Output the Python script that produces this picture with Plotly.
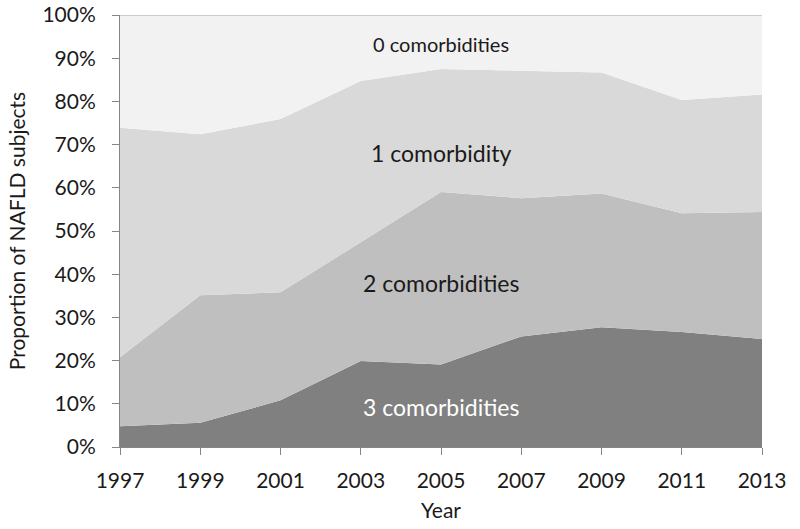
import plotly.graph_objects as go

years = [1997, 1999, 2001, 2003, 2005, 2007, 2009, 2011, 2013]
three = [4.8, 5.6, 10.8, 19.9, 19.1, 25.6, 27.7, 26.6, 25.0]
two = [16.0, 29.5, 25.0, 27.5, 39.9, 32.0, 31.0, 27.5, 29.4]
one = [53.1, 37.3, 40.1, 37.3, 28.5, 29.5, 28.0, 26.2, 27.2]
zero = [26.1, 27.6, 24.1, 15.3, 12.5, 12.9, 13.3, 19.7, 18.4]

series = [
    ("3 comorbidities", three, "#808080"),
    ("2 comorbidities", two, "#bfbfbf"),
    ("1 comorbidity", one, "#d9d9d9"),
    ("0 comorbidities", zero, "#f2f2f2"),
]

fig = go.Figure()
for i, (name, vals, col) in enumerate(series):
    top = i == len(series) - 1
    fig.add_trace(go.Scatter(
        x=years, y=vals, name=name, mode="lines", stackgroup="one",
        groupnorm="percent" if i == 0 else None,
        fillcolor=col,
        line=dict(color="#a6a6a6" if top else col, width=1.2 if top else 0),
        hoverinfo="x+y+name",
    ))

font = "Lato, 'Open Sans', sans-serif"
labels = [
    ("0 comorbidities", 93.3, 20, "#1a1a1a"),
    ("1 comorbidity", 68.0, 23, "#1a1a1a"),
    ("2 comorbidities", 37.9, 23, "#1a1a1a"),
    ("3 comorbidities", 9.2, 23, "#ffffff"),
]
for txt, yv, fs, c in labels:
    fig.add_annotation(x=2005, y=yv, xref="x", yref="y", text=txt, showarrow=False,
                       font=dict(size=fs, color=c, family=font))

fig.update_layout(
    width=800, height=529,
    margin=dict(l=120, r=38, t=15, b=82),
    paper_bgcolor="white", plot_bgcolor="white",
    showlegend=False,
    font=dict(family=font, color="#1a1a1a", size=21),
)
fig.update_xaxes(
    range=[1997, 2013], tickvals=years, ticktext=[str(y) for y in years],
    showgrid=False, zeroline=False, showline=True, linecolor="#868686", linewidth=1,
    ticks="outside", ticklen=7, tickcolor="#868686", ticklabelstandoff=8,
    title=dict(text="Year", font=dict(size=21), standoff=12),
    tickfont=dict(size=21), automargin=False,
)
fig.update_yaxes(
    range=[0, 100], tickvals=list(range(0, 101, 10)),
    ticktext=[f"{v}%" for v in range(0, 101, 10)],
    showgrid=False, zeroline=False, showline=True, linecolor="#868686", linewidth=1,
    ticks="outside", ticklen=7, tickcolor="#868686", ticklabelstandoff=12,
    title=dict(text="Proportion of NAFLD subjects", font=dict(size=21), standoff=11),
    tickfont=dict(size=21), automargin=False,
)

fig.write_html("out.html", config={"displayModeBar": False},
               post_script="document.body.style.margin='0px';")
